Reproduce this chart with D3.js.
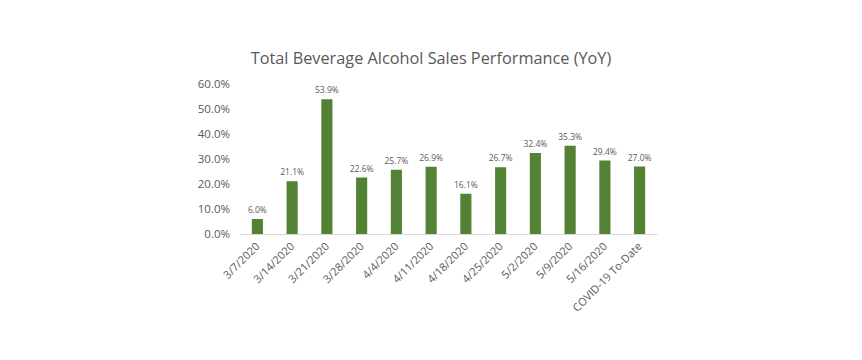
<!DOCTYPE html>
<html><head><meta charset="utf-8">
<script src="https://cdn.jsdelivr.net/npm/d3@7"></script>
<style>body{margin:0;background:#fff}svg{display:block}text{font-family:"Open Sans",sans-serif;fill:#595959}</style>
</head><body><svg id="c" width="862" height="360"></svg>
<script>
const categories=["3/7/2020","3/14/2020","3/21/2020","3/28/2020","4/4/2020","4/11/2020","4/18/2020","4/25/2020","5/2/2020","5/9/2020","5/16/2020","COVID-19 To-Date"];
const values=[6.0,21.1,53.9,22.6,25.7,26.9,16.1,26.7,32.4,35.3,29.4,27.0];
const yTicks=[0,10,20,30,40,50,60];
const title="Total Beverage Alcohol Sales Performance (YoY)";

const svg=d3.select("#c");
const m={l:240,r:657,t:84,b:234};
const x=d3.scaleBand().domain(categories).range([m.l,m.r]).paddingInner(0.68).paddingOuter(0.34);
const y=d3.scaleLinear().domain([0,60]).range([m.b,m.t]);

svg.append("text").attr("x",431).attr("y",64).attr("text-anchor","middle").style("font-size","16.3px").text(title);

const ya=svg.append("g").attr("transform",`translate(${m.l},0)`).call(d3.axisLeft(y).tickValues(yTicks).tickSize(0).tickPadding(10).tickFormat(d=>d.toFixed(1)+"%"));
ya.select(".domain").remove();
ya.selectAll("text").style("font-size","11.5px").style("fill","#595959");

svg.selectAll("rect.bar").data(values).join("rect").attr("class","bar")
 .attr("x",(d,i)=>x(categories[i])).attr("width",x.bandwidth())
 .attr("y",d=>y(d)).attr("height",d=>y(0)-y(d)).attr("fill","#548235");

svg.selectAll("text.lbl").data(values).join("text").attr("class","lbl")
 .attr("x",(d,i)=>x(categories[i])+x.bandwidth()/2).attr("y",d=>y(d)-6)
 .attr("text-anchor","middle").style("font-size","8.5px").text(d=>d.toFixed(1)+"%");

const xa=svg.append("g").attr("transform",`translate(0,${m.b})`).call(d3.axisBottom(x).tickSize(0).tickPadding(0));
xa.select(".domain").attr("stroke","#d9d9d9").attr("stroke-width",1);
xa.selectAll("text").style("font-size","11px").style("fill","#595959").attr("text-anchor","end")
 .attr("dy",0).attr("transform","translate(3,13) rotate(-45)");
</script></body></html>
